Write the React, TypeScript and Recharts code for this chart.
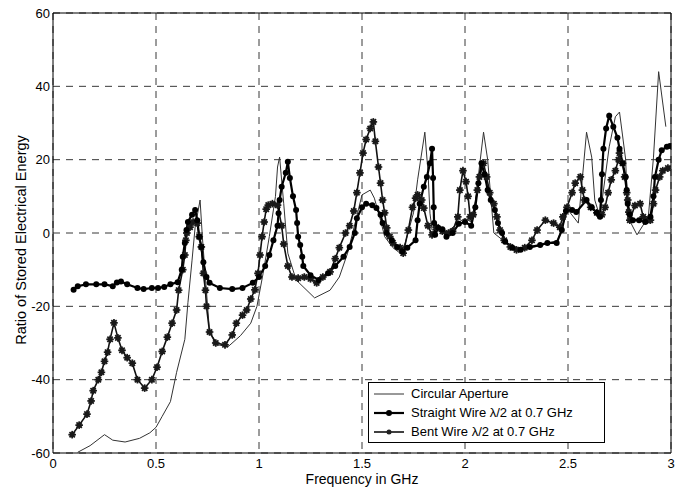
import { LineChart, Line, XAxis, YAxis, CartesianGrid, ReferenceLine, Label } from "recharts";

const xTicks = [0, 0.5, 1, 1.5, 2, 2.5, 3];
const yTicks = [-60, -40, -20, 0, 20, 40, 60];

// Circular Aperture (thin line)
const apertureFreq = [
  0.12, 0.18, 0.25, 0.29, 0.35, 0.42, 0.47, 0.5, 0.53, 0.57, 0.6, 0.64, 0.655, 0.675, 0.69, 0.714,
  0.725, 0.745, 0.76, 0.8, 0.85, 0.91, 0.96, 0.99, 1.02, 1.05, 1.08, 1.09, 1.1, 1.12, 1.14, 1.18,
  1.27, 1.345, 1.39, 1.43, 1.47, 1.5, 1.54, 1.56, 1.59, 1.61, 1.65, 1.685, 1.71, 1.75, 1.77, 1.805,
  1.82, 1.83, 1.84, 1.87, 1.9, 1.93, 1.97, 2.0, 2.03, 2.05, 2.07, 2.09, 2.11, 2.14, 2.2, 2.28, 2.36,
  2.45, 2.5, 2.55, 2.59, 2.615, 2.63, 2.655, 2.7, 2.73, 2.75, 2.78, 2.79, 2.835, 2.89, 2.915, 2.94,
  2.975,
];
const apertureValue = [
  -59.8, -58, -55, -56.5, -57, -56, -54.5, -53, -50, -46, -38, -29, -19, -7.4, 1.6, 9,
  -1, -16, -27, -30.5, -31, -28, -24.6, -20, -11, -1, 10, 18, 20.7, 8, -5.5, -12.8,
  -17.7, -15.6, -12, -5.5, 3.5, 10.4, 11.7, 9.5, 3.5, -1, -4, -5.5, -2.7, 5.5, 14.5, 27.5,
  17, 5.4, 0.8, 1.5, 0, 1, 3, 4, 3, 8, 18, 27.5, 20, 0, -2.7, -4.6, -3.5,
  -2, 6.3, 2.7, 27.5, 20.7, 9, 4.4, 23.5, 31.7, 33, 20, 4.4, -0.5, 4.4, 20.7, 44,
  29,
];

// Straight Wire (filled circles)
const straightFreq = [
  0.1, 0.12, 0.16, 0.21, 0.25, 0.29, 0.31, 0.33, 0.36, 0.41, 0.44, 0.48, 0.51, 0.54, 0.57, 0.605,
  0.625, 0.63, 0.64, 0.648, 0.655, 0.675, 0.69, 0.7, 0.71, 0.72, 0.73, 0.745, 0.76, 0.81, 0.87, 0.92,
  0.97, 1.0, 1.03, 1.05, 1.07, 1.09, 1.095, 1.1, 1.11, 1.13, 1.14, 1.15, 1.165, 1.18, 1.185, 1.19,
  1.2, 1.21, 1.215, 1.25, 1.29, 1.335, 1.37, 1.41, 1.44, 1.465, 1.475, 1.5, 1.52, 1.55, 1.57, 1.59,
  1.6, 1.62, 1.645, 1.67, 1.695, 1.72, 1.76, 1.77, 1.78, 1.8, 1.815, 1.83, 1.84, 1.845, 1.848, 1.85,
  1.855, 1.87, 1.89, 1.91, 1.94, 1.97, 2.0, 2.03, 2.05, 2.065, 2.08, 2.095, 2.11, 2.125, 2.145, 2.16,
  2.18, 2.195, 2.23, 2.27, 2.315, 2.365, 2.4, 2.445, 2.47, 2.49, 2.52, 2.54, 2.59, 2.615, 2.64, 2.655,
  2.66, 2.665, 2.672, 2.685, 2.7, 2.72, 2.74, 2.75, 2.765, 2.78, 2.785, 2.79, 2.8, 2.815, 2.845, 2.875,
  2.9, 2.915, 2.922, 2.94, 2.955, 2.98, 2.995,
];
const straightValue = [
  -15.5, -14.5, -14, -14, -14, -14.5, -13.5, -13.2, -14, -15, -15.3, -15, -15, -14.7, -14, -13.4,
  -10, -6.5, -2.7, 0.8, 3, 5, 6.3, 3.5, -1, -3.8, -8, -12, -13.6, -15, -15.3, -15,
  -13.6, -12, -9, -6, -2, 2, 5.4, 9, 12.6, 16.4, 19.4, 15, 10, 6.3, 2.7, -1,
  -3.3, -6.5, -9, -11.5, -12.8, -11, -9, -6.5, -3.8, 0, 4, 7, 8, 7.6, 6.8, 5,
  2.7, 0, -2, -3.8, -5, -4, -2, 3.5, 8, 12.6, 15.3, 19, 23, 15, 7, 2.7,
  -0.5, 1.4, 1, -1, 0, 2.5, 3, 2, 7, 13.6, 19, 16, 11.7, 9, 6.3, 2.7,
  0, -2.4, -4, -4.6, -3.8, -3.3, -2.7, -2.7, 0.8, 6, 6.3, 5.7, 9, 7, 5.5, 4.4,
  9, 16, 23, 28.5, 32, 29, 26, 23, 19, 15.3, 11.7, 8, 5, 3.5, 3.5, 3,
  4.4, 10, 15.3, 20, 22.6, 23.5, 23.7,
];

// Bent Wire (stars)
const bentFreq = [
  0.093, 0.127, 0.165, 0.185, 0.195, 0.22, 0.235, 0.25, 0.265, 0.277, 0.296, 0.315, 0.335, 0.36, 0.385, 0.41,
  0.445, 0.48, 0.505, 0.53, 0.555, 0.578, 0.6, 0.61, 0.63, 0.64, 0.645, 0.65, 0.665, 0.68, 0.7, 0.71,
  0.72, 0.73, 0.74, 0.745, 0.76, 0.79, 0.835, 0.87, 0.89, 0.92, 0.94, 0.96, 0.98, 0.995, 1.005, 1.015,
  1.025, 1.035, 1.045, 1.065, 1.09, 1.11, 1.12, 1.14, 1.16, 1.19, 1.22, 1.25, 1.28, 1.31, 1.345, 1.37,
  1.39, 1.42, 1.44, 1.46, 1.475, 1.49, 1.505, 1.52, 1.54, 1.555, 1.565, 1.58, 1.59, 1.6, 1.61, 1.62,
  1.635, 1.65, 1.685, 1.7, 1.725, 1.745, 1.76, 1.77, 1.79, 1.8, 1.82, 1.84, 1.86, 1.89, 1.92, 1.94,
  1.965, 1.975, 1.99, 2.005, 2.015, 2.025, 2.04, 2.06, 2.07, 2.09, 2.105, 2.12, 2.14, 2.155, 2.17, 2.19,
  2.22, 2.25, 2.29, 2.325, 2.35, 2.39, 2.43, 2.46, 2.475, 2.495, 2.52, 2.535, 2.56, 2.57, 2.58, 2.61,
  2.64, 2.665, 2.68, 2.695, 2.71, 2.73, 2.745, 2.75, 2.765, 2.775, 2.785, 2.79, 2.795, 2.8, 2.825, 2.85,
  2.865, 2.885, 2.9, 2.915, 2.925, 2.945, 2.96, 2.985,
];
const bentValue = [
  -55, -52.4, -49.4, -45.8, -43, -40, -38, -35, -32.5, -29, -24.5, -28.6, -32, -34, -35.5, -40,
  -42.3, -40, -36.6, -32.3, -28.4, -24.6, -21, -15.6, -10, -6, -2, 0, 1.6, 3, 2.7, -1,
  -3.8, -11, -15.6, -20, -27, -30, -30.5, -27.8, -24.6, -22.4, -21, -18, -15.5, -11, -6, -1,
  3, 6.5, 7.6, 8, 7.6, 2, -3, -9, -12, -12.3, -12, -12.5, -13.6, -12, -10.6, -7,
  -4, 0, 2, 6, 11, 16.4, 21.8, 25.5, 28.5, 30.3, 25, 18, 13.6, 9, 5.5, 1.4,
  -1, -2.7, -4, -5.5, 0.8, 7, 9.5, 10.4, 9, 6.8, 2, -0.5, 1.6, 0.5, 0, 0.5,
  4.4, 11.7, 17, 14, 10, 4.4, 5, 11.7, 15.3, 19, 15.3, 11, 8, 4.4, 0.8, -2,
  -3.8, -4.6, -4, -2, 0.8, 3.5, 2.7, 1.6, 4.4, 7, 11, 13.6, 15.3, 11.7, 9, 7,
  5.5, 5, 7, 11, 14.5, 17, 20, 21.8, 19, 15.3, 11, 9, 5.7, 3.5, 7.5, 8,
  4.4, 3.5, 3.5, 8, 11.7, 15.3, 17, 17.7,
];

const toPoints = (freq: number[], value: number[]) => freq.map((f, i) => ({ f, v: value[i] }));

const apertureData = toPoints(apertureFreq, apertureValue);
const straightData = toPoints(straightFreq, straightValue);
const bentData = toPoints(bentFreq, bentValue);

const FONT = "'Liberation Sans', Arial, Helvetica, sans-serif";

const CircleDot = (props: any) => {
  const { cx, cy, index } = props;
  if (cx == null || cy == null) return null;
  return <circle key={`c-${index}`} cx={cx} cy={cy} r={3} fill="#000" />;
};

const StarDot = (props: any) => {
  const { cx, cy, index } = props;
  if (cx == null || cy == null) return null;
  const r = 3.8;
  const d = r * 0.707;
  return (
    <g key={`s-${index}`} stroke="#1a1a1a" strokeWidth={1.7}>
      <circle cx={cx} cy={cy} r={2.6} fill="#222" stroke="none" />
      <line x1={cx - r} y1={cy} x2={cx + r} y2={cy} />
      <line x1={cx} y1={cy - r} x2={cx} y2={cy + r} />
      <line x1={cx - d} y1={cy - d} x2={cx + d} y2={cy + d} />
      <line x1={cx - d} y1={cy + d} x2={cx + d} y2={cy - d} />
    </g>
  );
};

const YTitle = () => (
  <text
    x={21}
    y={240}
    transform="rotate(-90, 21, 240)"
    textAnchor="middle"
    dominantBaseline="central"
    fill="#000"
    fontSize={14.5}
    fontFamily={FONT}
  >
    Ratio of Stored Electrical Energy
  </text>
);

function LegendBox() {
  const row = { display: "flex", alignItems: "center", height: 19 } as const;
  return (
    <div
      style={{
        position: "absolute",
        left: 368,
        top: 382,
        width: 237,
        height: 61,
        boxSizing: "border-box",
        border: "1px solid #000",
        background: "#fff",
        fontFamily: FONT,
        fontSize: 13,
        color: "#000",
        padding: "1px 0 0 4px",
      }}
    >
      <div style={row}>
        <svg width={36} height={10}>
          <line x1={1} y1={5} x2={31} y2={5} stroke="#333" strokeWidth={1} />
        </svg>
        <span style={{ marginLeft: 2 }}>Circular Aperture</span>
      </div>
      <div style={row}>
        <svg width={36} height={10}>
          <line x1={1} y1={5} x2={31} y2={5} stroke="#000" strokeWidth={2.2} />
          <circle cx={16} cy={5} r={3} fill="#000" />
        </svg>
        <span style={{ marginLeft: 2 }}>Straight Wire λ/2 at 0.7 GHz</span>
      </div>
      <div style={row}>
        <svg width={36} height={10}>
          <line x1={1} y1={5} x2={31} y2={5} stroke="#000" strokeWidth={1.5} />
          <circle cx={16} cy={5} r={2.5} fill="#222" />
        </svg>
        <span style={{ marginLeft: 2 }}>Bent Wire λ/2 at 0.7 GHz</span>
      </div>
    </div>
  );
}

export default function App() {
  return (
    <div
      style={{
        position: "absolute",
        left: 0,
        top: 0,
        width: 683,
        height: 487,
        background: "#fff",
        fontFamily: FONT,
      }}
    >
      <LineChart width={683} height={487} margin={{ top: 13, right: 12, bottom: 0, left: 0 }}>
        <CartesianGrid stroke="#222" strokeDasharray="7 6" strokeWidth={0.9} />
        <XAxis
          dataKey="f"
          type="number"
          domain={[0, 3]}
          ticks={xTicks}
          allowDataOverflow
          height={34}
          tickSize={4}
          tickLine={false}
          axisLine={{ stroke: "#000" }}
          tick={{ fill: "#000", fontSize: 13, fontFamily: FONT }}
        >
          <Label
            value="Frequency in GHz"
            position="insideBottom"
            offset={3}
            style={{ fill: "#000", fontSize: 14, fontFamily: FONT }}
          />
        </XAxis>
        <YAxis
          dataKey="v"
          type="number"
          domain={[-60, 60]}
          ticks={yTicks}
          allowDataOverflow
          width={53}
          tickSize={1}
          tickLine={false}
          axisLine={{ stroke: "#000" }}
          tick={{ fill: "#000", fontSize: 13, fontFamily: FONT }}
        >
          <Label content={YTitle} />
        </YAxis>
        <ReferenceLine y={60} stroke="#000" strokeWidth={1} />
        <ReferenceLine x={3} stroke="#000" strokeWidth={1} />
        <Line
          data={apertureData}
          dataKey="v"
          name="Circular Aperture"
          type="linear"
          stroke="#333"
          strokeWidth={1}
          dot={false}
          activeDot={false}
          isAnimationActive={false}
        />
        <Line
          data={bentData}
          dataKey="v"
          name="Bent Wire λ/2 at 0.7 GHz"
          type="linear"
          stroke="#111"
          strokeWidth={1.6}
          dot={StarDot}
          activeDot={false}
          isAnimationActive={false}
        />
        <Line
          data={straightData}
          dataKey="v"
          name="Straight Wire λ/2 at 0.7 GHz"
          type="linear"
          stroke="#000"
          strokeWidth={2.2}
          dot={CircleDot}
          activeDot={false}
          isAnimationActive={false}
        />
      </LineChart>
      <LegendBox />
    </div>
  );
}
